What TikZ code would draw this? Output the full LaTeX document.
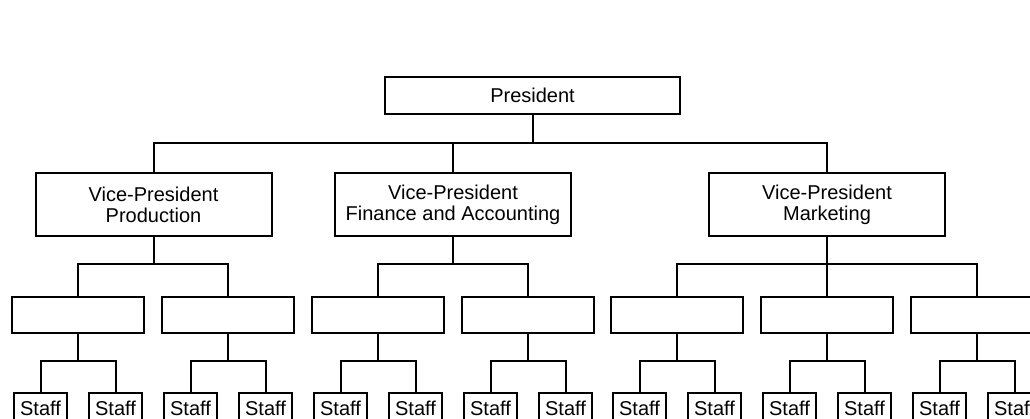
\documentclass[tikz,border=0pt]{standalone}
\usepackage{fontspec}
\setmainfont{Liberation Sans}
\begin{document}
\begin{tikzpicture}[x=1pt,y=-1pt,
  box/.style={draw,line width=2pt,rectangle,inner sep=0pt,align=center,
    font=\fontsize{20}{21}\selectfont},
  topbox/.style={box,minimum width=295pt,minimum height=37pt},
  vpbox/.style={box,minimum width=236pt,minimum height=63pt},
  subbox/.style={box,minimum width=132pt,minimum height=36pt},
  staffbox/.style={box,minimum width=53pt,minimum height=31pt,anchor=north},
  link/.style={line width=2pt}]
\useasboundingbox (0,0) rectangle (1030,419);
\clip (0,0) rectangle (1030,419);

% bus levels of the tree
\coordinate (busA) at (0,143);
\coordinate (busB) at (0,264);
\coordinate (busC) at (0,361);

% top
\node[topbox] (pres) at (532.5,95.5) {President};

% vice-presidents
\node[vpbox] (vpP) at (153.5,204.5) {Vice-President\\Production};
\node[vpbox] (vpF) at (453,204.5) {Vice-President\\Finance and Accounting};
\node[vpbox] (vpM) at (827,204.5) {Vice-President\\Marketing};

% department boxes with two staff boxes each
\foreach \i/\x in {1/78,2/228,3/378,4/528,5/677,6/827,7/977}{
  \node[subbox] (d\i) at (\x,315) {};
  \node[staffbox] (s\i a) at (\x-37.5,392) {Staff};
  \node[staffbox] (s\i b) at (\x+37.5,392) {Staff};
}

% president to vice-presidents
\foreach \v in {vpP,vpF,vpM}
  \draw[link] (pres.south) |- (\v.north |- busA) -- (\v.north);

% vice-presidents to departments
\foreach \v/\d in {vpP/d1,vpP/d2,vpF/d3,vpF/d4,vpM/d5,vpM/d6,vpM/d7}
  \draw[link] (\v.south) |- (\d.north |- busB) -- (\d.north);

% departments to staff
\foreach \i in {1,...,7}{
  \draw[link] (d\i.south) |- (s\i a.north |- busC) -- (s\i a.north);
  \draw[link] (d\i.south) |- (s\i b.north |- busC) -- (s\i b.north);
}
\end{tikzpicture}
\end{document}
